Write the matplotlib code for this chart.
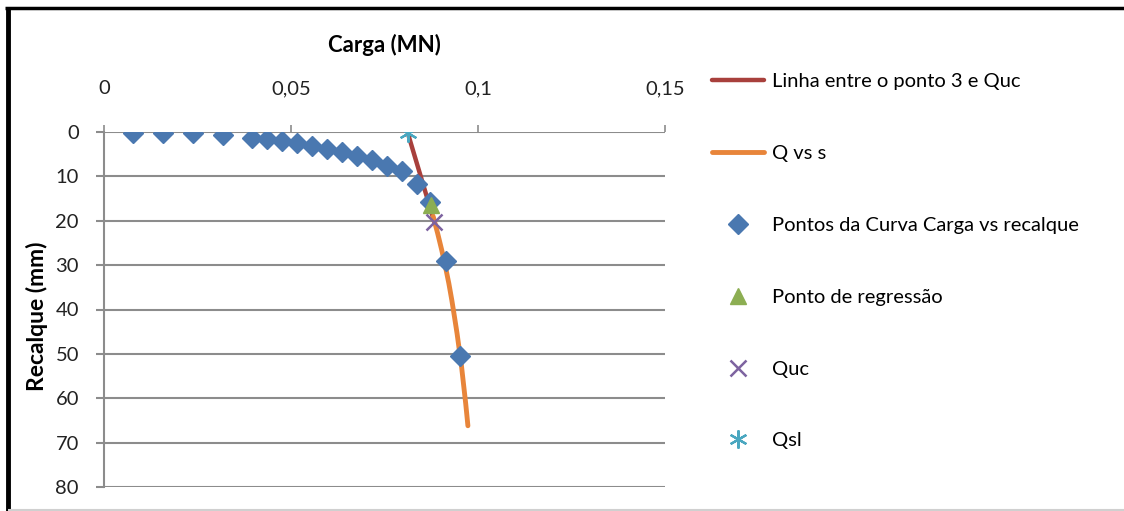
import matplotlib
matplotlib.use("Agg")
import matplotlib.pyplot as plt
from matplotlib.lines import Line2D
from matplotlib.ticker import FixedLocator, FuncFormatter

plt.rcParams['font.family'] = ['Lato', 'DejaVu Sans']

# Data
carga_pts = [0.0078, 0.0158, 0.0238, 0.0317, 0.0397, 0.0437, 0.0477, 0.0517,
             0.0557, 0.0597, 0.0637, 0.0676, 0.0716, 0.0756, 0.0796, 0.0836,
             0.0871, 0.0914, 0.0953]
recalque_pts = [0.15, 0.2, 0.2, 0.7, 1.4, 1.6, 2.0, 2.5, 3.1, 3.8, 4.6, 5.4,
                6.3, 7.6, 8.9, 11.7, 15.7, 29.0, 50.4]

linha_q = [0.0812, 0.0883]
linha_s = [0.15, 20.2]

qvs_q = [0.0880, 0.0892, 0.0903, 0.0913, 0.0922, 0.0930, 0.0937, 0.0944,
         0.0950, 0.0955, 0.0959, 0.0963, 0.0967, 0.0970, 0.0973]
qvs_s = [19.0, 22.8, 26.6, 30.4, 34.1, 37.9, 41.6, 45.4, 49.1, 52.1, 55.1,
         58.1, 61.1, 63.6, 66.2]

regressao_q = [0.0873]
regressao_s = [16.4]

quc_q = [0.0883]
quc_s = [20.2]

qsl_q = [0.0812]
qsl_s = [0.15]

x_ticks = [0, 0.05, 0.1, 0.15]
y_ticks = [0, 10, 20, 30, 40, 50, 60, 70, 80]

W, H = 1124, 511
fig = plt.figure(figsize=(W / 100, H / 100), dpi=100)
left, right, top, bottom = 104, 665, 132, 487
ax = fig.add_axes([left / W, 1 - bottom / H, (right - left) / W, (bottom - top) / H])

l1, = ax.plot(linha_q, linha_s, color='#A8403C', lw=3.2, solid_capstyle='round',
              label='Linha entre o ponto 3 e Quc', zorder=3)
l2, = ax.plot(qvs_q, qvs_s, color='#E8853A', lw=3.5, solid_capstyle='round',
              label='Q vs s', zorder=3)
l3, = ax.plot(carga_pts, recalque_pts, ls='none', marker='D', ms=10.5,
              color='#4A78B0', label='Pontos da Curva Carga vs recalque', zorder=4)
l4, = ax.plot(regressao_q, regressao_s, ls='none', marker='^', ms=11,
              color='#8CAE52', label='Ponto de regressão', zorder=5)
l5, = ax.plot(quc_q, quc_s, ls='none', marker='x', ms=12, mew=1.8,
              color='#7D63A0', label='Quc', zorder=6)
l6, = ax.plot(qsl_q, qsl_s, ls='none', marker=(6, 2, 0), ms=13, mew=1.6,
              color='#4AA7C0', label='Qsl', zorder=6)

ax.set_xlim(0, 0.15)
ax.set_ylim(80, 0)

ax.xaxis.tick_top()
ax.xaxis.set_major_locator(FixedLocator(x_ticks))
ax.xaxis.set_major_formatter(FuncFormatter(lambda v, p: ('%g' % v).replace('.', ',')))
ax.yaxis.set_major_locator(FixedLocator(y_ticks))
ax.yaxis.set_major_formatter(FuncFormatter(lambda v, p: '%d' % v))

for s in ['right', 'bottom', 'top']:
    ax.spines[s].set_visible(False)
ax.spines['left'].set_color('#8C8C8C')
ax.spines['left'].set_linewidth(1.5)
ax.grid(axis='y', color='#8C8C8C', lw=1.5)
ax.set_axisbelow(True)

ax.tick_params(axis='x', direction='out', length=5, width=1.2, color='#8C8C8C',
               pad=20, labelsize=14.5, labelcolor='#222222')
ax.tick_params(axis='y', direction='out', length=6, width=1.5, color='#8C8C8C',
               pad=12, labelsize=14.5, labelcolor='#222222')

fig.text((left + right) / 2 / W, 1 - 45 / H, 'Carga (MN)', ha='center', va='center',
         fontsize=16, fontweight='bold')
fig.text(37 / W, 1 - 316 / H, 'Recalque (mm)', ha='center', va='center',
         rotation=90, fontsize=16.5, fontweight='bold')

leg = fig.legend(handles=[l1, l2, l3, l4, l5, l6], loc='upper left',
                 bbox_to_anchor=(712 / W, 1 - 73 / H), frameon=False,
                 fontsize=14.5, labelspacing=2.72, handlelength=2.6,
                 handletextpad=0.4, borderaxespad=0, borderpad=0)

# frame of the original picture
fig.add_artist(Line2D([5 / W, 1124 / W], [1 - 8 / H, 1 - 8 / H], color='black', lw=2.5,
                      solid_capstyle='butt', transform=fig.transFigure))
fig.add_artist(Line2D([8 / W, 8 / W], [0, 1 - 7 / H], color='black', lw=3.5,
                      solid_capstyle='butt', transform=fig.transFigure))
fig.add_artist(Line2D([8 / W, 1], [1.5 / H, 1.5 / H], color='#D0D0D0', lw=1.5,
                      solid_capstyle='butt', transform=fig.transFigure))

fig.savefig('out.png', dpi=100)
